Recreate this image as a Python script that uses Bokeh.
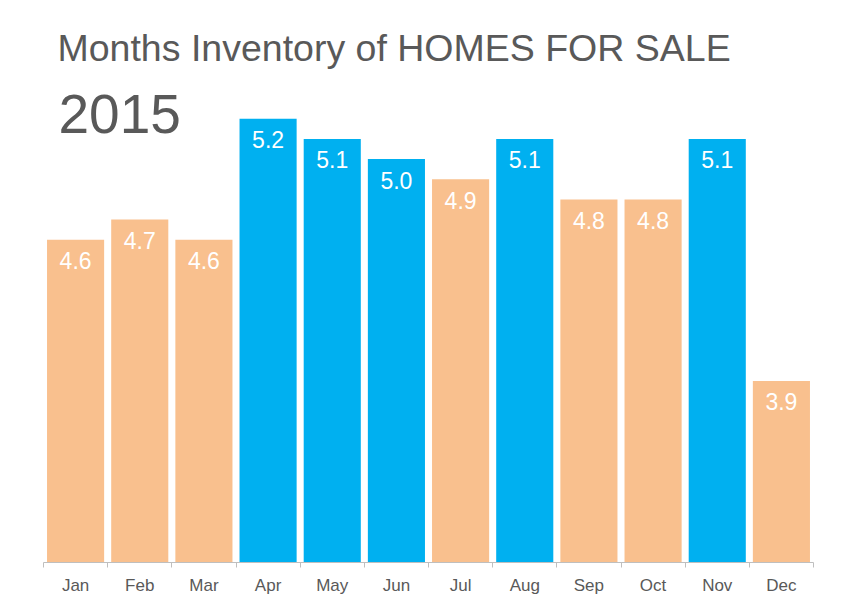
from bokeh.plotting import figure
from bokeh.models import ColumnDataSource, Range1d, FixedTicker, Label
from bokeh.embed import file_html
from bokeh.resources import INLINE
from bokeh.core.properties import value

# ---- data ----
months = ["Jan", "Feb", "Mar", "Apr", "May", "Jun", "Jul", "Aug", "Sep", "Oct", "Nov", "Dec"]
inventory = [4.6, 4.7, 4.6, 5.2, 5.1, 5.0, 4.9, 5.1, 4.8, 4.8, 5.1, 3.9]
highlight = [False, False, False, True, True, True, False, True, False, False, True, False]
title_text = "Months Inventory of HOMES FOR SALE"
year_text = "2015"

BLUE = "#00B0F0"
ORANGE = "#F9C08E"
GREY = "#595959"
FONT = "Liberation Sans"

xs = list(range(1, len(months) + 1))
colors = [BLUE if h else ORANGE for h in highlight]
labels = ["%.1f" % v for v in inventory]

y0 = 3.0
px_per_unit = 201.7
frame_h = 562
cat_w = 770 / len(months)

src = ColumnDataSource(dict(x=xs, top=inventory, color=colors, label=labels))

p = figure(width=834, height=597, output_backend="svg", toolbar_location=None,
           x_range=Range1d(0.5, len(months) + 0.5),
           y_range=Range1d(y0, y0 + frame_h / px_per_unit),
           min_border_left=43, min_border_right=21, min_border_top=0, min_border_bottom=0)
p.outline_line_color = None
p.grid.visible = False
p.yaxis.visible = False
p.background_fill_color = "white"
p.border_fill_color = "white"

p.vbar(x="x", top="top", bottom=y0, width=0.89, fill_color="color", line_color=None, source=src)
p.text(x="x", y="top", text="label", source=src, text_color="white",
       text_font=value(FONT), text_font_size="23px", text_align="center",
       text_baseline="middle", y_offset=21)

ax = p.xaxis[0]
ax.ticker = FixedTicker(ticks=xs, minor_ticks=[x - 0.5 for x in xs] + [len(xs) + 0.5])
ax.major_label_overrides = {x: m for x, m in zip(xs, months)}
ax.major_tick_out = 0
ax.major_tick_in = 0
ax.minor_tick_out = 5
ax.minor_tick_in = 0
ax.minor_tick_line_color = "#BFBFBF"
ax.axis_line_color = "#BFBFBF"
ax.major_label_text_font = FONT
ax.major_label_text_font_size = "17px"
ax.major_label_text_color = GREY
ax.major_label_standoff = 8

p.add_layout(Label(x=0.5 + 14 / cat_w, y=y0 + 514.5 / px_per_unit, text=title_text,
                   text_font=FONT, text_font_size="37.5px", text_color=GREY,
                   text_baseline="alphabetic"))
p.add_layout(Label(x=0.5 + 15 / cat_w, y=y0 + 448.5 / px_per_unit, text=year_text,
                   text_font=FONT, text_font_size="55px", text_color=GREY,
                   text_baseline="alphabetic"))

open("out.html", "w").write(file_html(p, INLINE))
